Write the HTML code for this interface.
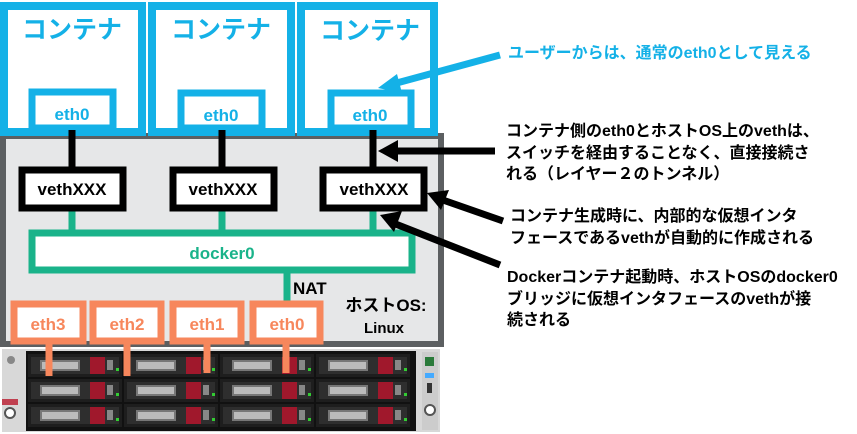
<!DOCTYPE html>
<html><head><meta charset="utf-8"><style>
html,body{margin:0;padding:0;background:#fff;width:857px;height:434px;overflow:hidden}
svg text{font-family:"Liberation Sans","Noto Sans CJK JP",sans-serif;font-weight:bold}
</style></head><body>
<svg width="857" height="434" viewBox="0 0 857 434" xmlns="http://www.w3.org/2000/svg">
<defs>
<g id="bay">
<rect x="0" y="0" width="94" height="23" fill="#1e1e1e"/>
<rect x="3" y="3" width="88" height="17" fill="#2e2e2e"/>
<rect x="12" y="6" width="40" height="11" fill="#777"/>
<rect x="14" y="8" width="36" height="7" fill="#bbb"/>
<rect x="62" y="3" width="15" height="17" fill="#a0182c"/>
<rect x="79" y="6" width="6" height="10" fill="#888"/>
<rect x="88" y="14" width="3" height="3" fill="#3c3"/>
</g>
</defs>
<!-- host os box -->
<rect x="3" y="136" width="438" height="208" fill="#e6e7e8" stroke="#5c5f61" stroke-width="6"/>
<!-- containers -->
<g fill="#fff" stroke="#14b1e7" stroke-width="8">
<rect x="4" y="6" width="138" height="126"/>
<rect x="152" y="6" width="139" height="126"/>
<rect x="301" y="6" width="133" height="126"/>
</g>
<g fill="#fff" stroke="#14b1e7" stroke-width="7">
<rect x="32" y="92" width="81" height="36"/>
<rect x="181" y="93" width="81" height="35"/>
<rect x="331" y="93" width="80" height="35"/>
</g>
<g fill="#14b1e7" font-size="25" text-anchor="middle">
<text x="72" y="38">コンテナ</text>
<text x="221" y="38">コンテナ</text>
<text x="370" y="39">コンテナ</text>
</g>
<g fill="#14b1e7" font-size="17" text-anchor="middle">
<text x="72" y="120">eth0</text>
<text x="221" y="121">eth0</text>
<text x="370" y="121">eth0</text>
</g>
<!-- black connectors -->
<g stroke="#000" stroke-width="7">
<line x1="72" y1="130" x2="72" y2="168"/>
<line x1="222" y1="130" x2="222" y2="168"/>
<line x1="373" y1="130" x2="373" y2="168"/>
</g>
<!-- green -->
<g stroke="#1ab38a" stroke-width="7" fill="none">
<line x1="72" y1="210" x2="72" y2="233"/>
<line x1="222" y1="210" x2="222" y2="233"/>
<line x1="373" y1="210" x2="373" y2="233"/>
<rect x="32" y="233" width="380" height="37" fill="#fff"/>
<line x1="287" y1="270" x2="287" y2="302"/>
</g>
<text x="222" y="259" fill="#1ab38a" font-size="17" text-anchor="middle">docker0</text>
<!-- veth -->
<g fill="#fff" stroke="#000" stroke-width="7">
<rect x="22" y="170" width="101" height="38"/>
<rect x="173" y="170" width="101" height="38"/>
<rect x="323" y="170" width="101" height="38"/>
</g>
<g font-size="17" text-anchor="middle" fill="#000">
<text x="72" y="195">vethXXX</text>
<text x="223" y="195">vethXXX</text>
<text x="374" y="195">vethXXX</text>
</g>
<text x="293" y="294" font-size="17" fill="#000">NAT</text>
<text x="386" y="311" font-size="17" fill="#000" text-anchor="middle">ホストOS:</text>
<text x="384" y="333" font-size="15" fill="#000" text-anchor="middle">Linux</text>
<!-- server -->
<rect x="2" y="349" width="438" height="83" fill="#d8d8d8"/>
<rect x="26" y="351" width="390" height="80" fill="#111"/>
<use href="#bay" x="28" y="354"/><use href="#bay" x="124" y="354"/><use href="#bay" x="220" y="354"/><use href="#bay" x="316" y="354"/>
<use href="#bay" x="28" y="379"/><use href="#bay" x="124" y="379"/><use href="#bay" x="220" y="379"/><use href="#bay" x="316" y="379"/>
<use href="#bay" x="28" y="404"/><use href="#bay" x="124" y="404"/><use href="#bay" x="220" y="404"/><use href="#bay" x="316" y="404"/>
<circle cx="11" cy="360" r="4" fill="#888"/>
<rect x="2" y="399" width="16" height="6" fill="#c04050"/>
<circle cx="10" cy="413" r="5" fill="#fff" stroke="#555" stroke-width="2"/>
<rect x="422" y="352" width="16" height="78" fill="#ccc"/>
<rect x="425" y="357" width="9" height="9" fill="#2a7a3a"/>
<rect x="425" y="373" width="9" height="5" fill="#4af"/>
<rect x="427" y="383" width="5" height="10" fill="#333"/>
<circle cx="430" cy="410" r="5" fill="#fff" stroke="#555" stroke-width="2"/>
<!-- orange -->
<g stroke="#f7875c" stroke-width="7">
<line x1="49" y1="340" x2="49" y2="376"/>
<line x1="127" y1="340" x2="127" y2="376"/>
<line x1="207" y1="340" x2="207" y2="373"/>
<line x1="286" y1="340" x2="286" y2="373"/>
</g>
<g fill="#fff" stroke="#f7875c" stroke-width="7">
<rect x="14" y="304" width="69" height="37"/>
<rect x="93" y="304" width="68" height="37"/>
<rect x="173" y="304" width="68" height="37"/>
<rect x="253" y="304" width="67" height="37"/>
</g>
<g fill="#f7875c" font-size="17" text-anchor="middle">
<text x="48" y="330">eth3</text>
<text x="127" y="330">eth2</text>
<text x="207" y="330">eth1</text>
<text x="287" y="330">eth0</text>
</g>
<!-- arrows -->
<line x1="500" y1="55" x2="393" y2="84" stroke="#14b1e7" stroke-width="7"/>
<polygon points="378,88 397,74 402,93" fill="#14b1e7"/>
<g stroke="#000" stroke-width="7">
<line x1="495" y1="151" x2="392" y2="151"/>
<line x1="503" y1="221" x2="440" y2="199"/>
<line x1="500" y1="265" x2="393" y2="223"/>
</g>
<g fill="#000">
<polygon points="378,151 398,140 398,162"/>
<polygon points="427,193 449,190 441,210"/>
<polygon points="380,215 402,211 394,232"/>
</g>
<!-- texts -->
<text x="508" y="58" font-size="16" fill="#14b1e7">ユーザーからは、通常のeth0として見える</text>
<g font-size="16" fill="#000">
<text x="506" y="136">コンテナ側のeth0とホストOS上のvethは、</text>
<text x="506" y="158">スイッチを経由することなく、直接接続さ</text>
<text x="506" y="179">れる（レイヤー２のトンネル）</text>
<text x="510" y="221">コンテナ生成時に、内部的な仮想インタ</text>
<text x="510" y="243">フェースであるvethが自動的に作成される</text>
<text x="507" y="282">Dockerコンテナ起動時、ホストOSのdocker0</text>
<text x="507" y="304">ブリッジに仮想インタフェースのvethが接</text>
<text x="507" y="325">続される</text>
</g>
</svg>
</body></html>
